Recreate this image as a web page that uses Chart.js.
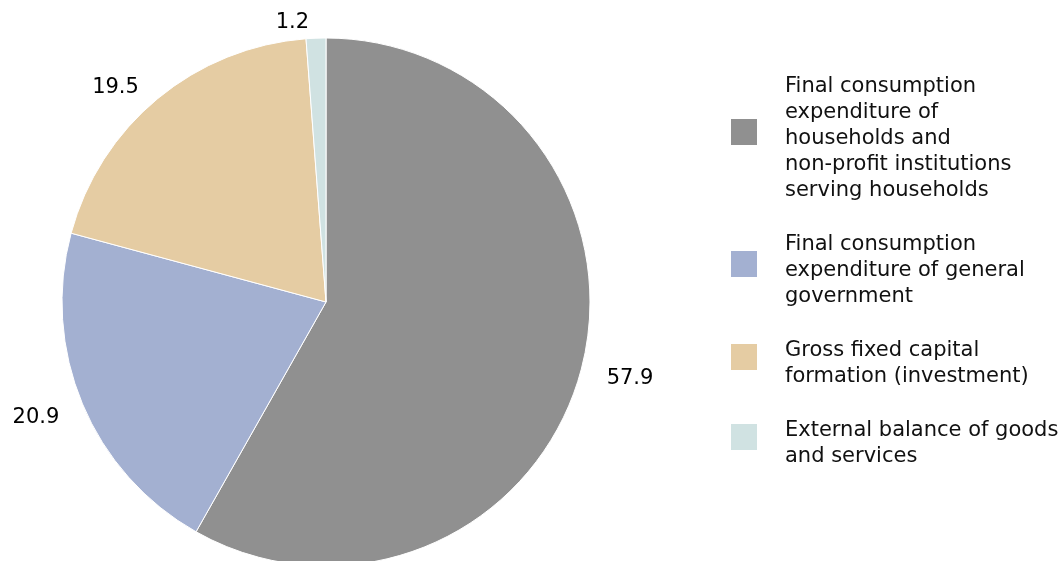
<!DOCTYPE html>
<html>
<head>
<meta charset="utf-8">
<title>GDP expenditure components</title>
<script src="https://cdn.jsdelivr.net/npm/chart.js@4.4.1/dist/chart.umd.min.js"></script>
<style>
    html, body { margin: 0; padding: 0; background: #ffffff; }
    #wrap { width: 1064px; height: 561px; }
</style>
</head>
<body>
<div id="wrap"><canvas id="pieChart" width="1064" height="561"></canvas></div>
<script>
// Shares of GDP by expenditure component (%)
const categories = [
    ['Final consumption', 'expenditure of', 'households and', 'non-profit institutions', 'serving households'],
    ['Final consumption', 'expenditure of general', 'government'],
    ['Gross fixed capital', 'formation (investment)'],
    ['External balance of goods', 'and services']
];
const shares = [57.9, 20.9, 19.5, 1.2];
const sliceColors = ['#909090', '#a3b0d1', '#e5cca3', '#d0e2e2'];

const FONT = '21px "DejaVu Sans", Verdana, sans-serif';

// value labels just outside each slice, pushed out along the mid angle
const outsideLabels = {
    id: 'outsideLabels',
    afterDatasetsDraw(chart, args, opts) {
        const ctx = chart.ctx;
        const meta = chart.getDatasetMeta(0);
        ctx.save();
        ctx.font = FONT;
        ctx.fillStyle = '#000000';
        ctx.textAlign = 'center';
        ctx.textBaseline = 'middle';
        meta.data.forEach(function(arc, i) {
            const p = arc.getProps(['x', 'y', 'startAngle', 'endAngle', 'outerRadius'], true);
            const mid = (p.startAngle + p.endAngle) / 2;
            const dx = Math.cos(mid), dy = Math.sin(mid);
            const text = chart.data.datasets[0].data[i].toFixed(1);
            const w = ctx.measureText(text).width;
            const shift = opts.shift[i] || [0, 0];
            const d = p.outerRadius + opts.gap;
            const x = p.x + dx * d + dx * w / 2 + shift[0];
            const y = p.y + dy * d + dy * 8.5 + shift[1];
            ctx.fillText(text, x, y);
        });
        ctx.restore();
    }
};

// legend on the right, multi-line text next to a square swatch
const sideLegend = {
    id: 'sideLegend',
    afterDraw(chart, args, opts) {
        const ctx = chart.ctx;
        const colors = chart.data.datasets[0].backgroundColor;
        ctx.save();
        ctx.font = FONT;
        ctx.textAlign = 'left';
        ctx.textBaseline = 'alphabetic';
        let baseline = opts.top;
        chart.data.labels.forEach(function(lines, i) {
            const n = lines.length;
            const boxMid = baseline + (n - 1) * opts.lineHeight / 2 - 12;
            ctx.fillStyle = colors[i];
            ctx.fillRect(opts.boxX, boxMid - opts.box / 2, opts.box, opts.box);
            ctx.fillStyle = '#111111';
            lines.forEach(function(line, j) {
                ctx.fillText(line, opts.textX, baseline + j * opts.lineHeight);
            });
            baseline += (n - 1) * opts.lineHeight + opts.itemGap;
        });
        ctx.restore();
    }
};

new Chart(document.getElementById('pieChart'), {
    type: 'pie',
    data: {
        labels: categories,
        datasets: [{
            data: shares,
            backgroundColor: sliceColors,
            borderColor: '#ffffff',
            borderWidth: 1,
            radius: 264
        }]
    },
    options: {
        responsive: false,
        animation: false,
        layout: { padding: { left: 62, right: 474, top: 43, bottom: 0 } },
        plugins: {
            legend: { display: false },
            tooltip: { enabled: false },
            outsideLabels: {
                gap: 27,
                shift: [[0, 0], [0, 0], [-10, 16], [-22, 20]]
            },
            sideLegend: {
                top: 92,
                lineHeight: 26,
                itemGap: 54,
                boxX: 731,
                box: 26,
                textX: 785
            }
        }
    },
    plugins: [outsideLabels, sideLegend]
});
</script>
</body>
</html>
